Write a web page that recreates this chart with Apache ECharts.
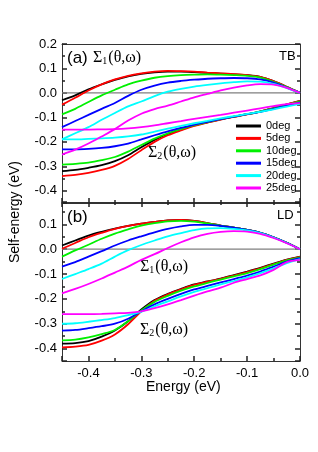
<!DOCTYPE html>
<html>
<head>
<meta charset="utf-8">
<script src="https://cdn.jsdelivr.net/npm/echarts@6/dist/echarts.min.js"></script>
<style>html,body{margin:0;padding:0;background:#fff}#c{width:318px;height:452px}</style>
</head>
<body>
<div id="c"></div>
<script>
// Energy grid (eV)
const energy = [-0.45,-0.425,-0.4,-0.375,-0.35,-0.325,-0.3,-0.275,-0.25,-0.225,-0.2,-0.175,-0.15,-0.125,-0.1,-0.075,-0.05,-0.025,0];
const angles = ['0deg','5deg','10deg','15deg','20deg','25deg'];
const colors = ['#000000','#ff0000','#00f000','#0000ff','#00ffff','#ff00ff'];

// Panel (a) TB : Sigma1 (real part)
const tb_s1_0  = [-0.03,-0.01,0.015,0.035,0.053,0.068,0.078,0.084,0.087,0.087,0.085,0.082,0.079,0.076,0.073,0.066,0.048,0.025,0];
const tb_s1_5  = [-0.048,-0.02,0.01,0.035,0.055,0.07,0.08,0.087,0.09,0.089,0.087,0.083,0.08,0.077,0.073,0.066,0.048,0.025,0];
const tb_s1_10 = [-0.088,-0.065,-0.037,-0.01,0.013,0.035,0.05,0.062,0.069,0.073,0.075,0.076,0.075,0.073,0.07,0.063,0.045,0.024,0];
const tb_s1_15 = [-0.14,-0.115,-0.09,-0.065,-0.041,-0.012,0.013,0.03,0.042,0.049,0.054,0.058,0.06,0.061,0.06,0.055,0.042,0.022,0];
const tb_s1_20 = [-0.19,-0.165,-0.14,-0.11,-0.082,-0.055,-0.035,-0.013,0.005,0.017,0.026,0.033,0.039,0.044,0.047,0.046,0.037,0.02,0];
const tb_s1_25 = [-0.252,-0.232,-0.207,-0.178,-0.148,-0.113,-0.085,-0.066,-0.052,-0.035,-0.018,-0.004,0.01,0.022,0.031,0.036,0.034,0.021,0];
// Panel (a) TB : Sigma2 (imaginary part)
const tb_s2_0  = [-0.32,-0.315,-0.306,-0.295,-0.279,-0.255,-0.222,-0.192,-0.168,-0.15,-0.133,-0.12,-0.108,-0.097,-0.087,-0.075,-0.062,-0.047,-0.033];
const tb_s2_5  = [-0.34,-0.335,-0.327,-0.315,-0.298,-0.27,-0.234,-0.2,-0.173,-0.153,-0.135,-0.121,-0.109,-0.098,-0.088,-0.076,-0.062,-0.047,-0.033];
const tb_s2_10 = [-0.293,-0.29,-0.285,-0.275,-0.262,-0.24,-0.213,-0.187,-0.165,-0.148,-0.132,-0.119,-0.107,-0.097,-0.087,-0.076,-0.063,-0.049,-0.035];
const tb_s2_15 = [-0.231,-0.231,-0.229,-0.225,-0.218,-0.207,-0.19,-0.173,-0.157,-0.143,-0.13,-0.118,-0.107,-0.097,-0.087,-0.077,-0.065,-0.052,-0.039];
const tb_s2_20 = [-0.19,-0.19,-0.188,-0.186,-0.183,-0.178,-0.17,-0.158,-0.146,-0.135,-0.124,-0.114,-0.104,-0.095,-0.086,-0.077,-0.067,-0.056,-0.045];
const tb_s2_25 = [-0.15,-0.15,-0.15,-0.149,-0.148,-0.145,-0.14,-0.133,-0.124,-0.115,-0.106,-0.098,-0.09,-0.081,-0.072,-0.063,-0.054,-0.046,-0.042];

// Panel (b) LD : Sigma1
const ld_s1_0  = [0.015,0.035,0.055,0.07,0.083,0.094,0.103,0.11,0.116,0.118,0.114,0.105,0.095,0.087,0.078,0.066,0.048,0.026,0];
const ld_s1_5  = [0.002,0.025,0.048,0.066,0.082,0.094,0.103,0.11,0.116,0.118,0.114,0.105,0.095,0.087,0.078,0.066,0.048,0.026,0];
const ld_s1_10 = [-0.03,-0.005,0.018,0.042,0.063,0.08,0.095,0.105,0.112,0.114,0.111,0.104,0.095,0.087,0.078,0.066,0.048,0.026,0];
const ld_s1_15 = [-0.07,-0.052,-0.03,-0.008,0.015,0.035,0.052,0.068,0.082,0.092,0.098,0.098,0.094,0.087,0.078,0.066,0.048,0.026,0];
const ld_s1_20 = [-0.12,-0.1,-0.08,-0.058,-0.03,-0.004,0.017,0.035,0.052,0.065,0.077,0.084,0.085,0.082,0.076,0.065,0.047,0.025,0];
const ld_s1_25 = [-0.178,-0.16,-0.14,-0.118,-0.094,-0.07,-0.043,-0.02,0.005,0.028,0.048,0.062,0.07,0.073,0.071,0.062,0.045,0.024,0];
// Panel (b) LD : Sigma2
const ld_s2_0  = [-0.38,-0.378,-0.37,-0.352,-0.327,-0.29,-0.243,-0.205,-0.18,-0.16,-0.142,-0.13,-0.118,-0.104,-0.09,-0.075,-0.058,-0.042,-0.03];
const ld_s2_5  = [-0.395,-0.392,-0.385,-0.368,-0.343,-0.302,-0.25,-0.208,-0.182,-0.162,-0.144,-0.131,-0.119,-0.106,-0.092,-0.077,-0.06,-0.043,-0.031];
const ld_s2_10 = [-0.367,-0.364,-0.355,-0.342,-0.325,-0.29,-0.247,-0.212,-0.188,-0.167,-0.15,-0.136,-0.122,-0.109,-0.096,-0.08,-0.062,-0.045,-0.033];
const ld_s2_15 = [-0.328,-0.325,-0.318,-0.31,-0.3,-0.28,-0.25,-0.222,-0.2,-0.18,-0.162,-0.148,-0.134,-0.12,-0.106,-0.09,-0.07,-0.05,-0.036];
const ld_s2_20 = [-0.3,-0.298,-0.292,-0.285,-0.277,-0.265,-0.252,-0.23,-0.21,-0.19,-0.172,-0.157,-0.142,-0.128,-0.113,-0.096,-0.077,-0.056,-0.04];
const ld_s2_25 = [-0.261,-0.261,-0.261,-0.26,-0.258,-0.256,-0.25,-0.237,-0.222,-0.205,-0.187,-0.17,-0.155,-0.135,-0.12,-0.105,-0.083,-0.052,-0.043];

// Tick labels
const xLabels = [-0.4,-0.3,-0.2,-0.1,0];
const yLabelsA = [-0.4,-0.3,-0.2,-0.1,0,0.1,0.2];
const yLabelsB = [-0.4,-0.3,-0.2,-0.1,0,0.1];

const tbSets = [[tb_s1_0,tb_s1_5,tb_s1_10,tb_s1_15,tb_s1_20,tb_s1_25],[tb_s2_0,tb_s2_5,tb_s2_10,tb_s2_15,tb_s2_20,tb_s2_25]];
const ldSets = [[ld_s1_0,ld_s1_5,ld_s1_10,ld_s1_15,ld_s1_20,ld_s1_25],[ld_s2_0,ld_s2_5,ld_s2_10,ld_s2_15,ld_s2_20,ld_s2_25]];

const AX = '#333333';
const TK = '#222222';
const FONT = 'Liberation Sans';
const SERIF = 'Liberation Serif';
const GW = 238, GH = 159;

function lineOn(show){ return {show:show, onZero:false, lineStyle:{color:AX, width:1}}; }
function ticks(show, len){ return {show:show, inside:false, length:len, lineStyle:{color:TK, width:1.5}}; }
// Tick-only axes are mirrored across the grid with a negative offset so their ticks point inward.
function xAxes(grid, labels) {
  const base = {type:'value', gridIndex:grid, min:-0.45, max:0, splitLine:{show:false}};
  const topTicks = grid === 1;
  return [
    Object.assign({}, base, {position:'bottom', axisLine:lineOn(true), axisTick:ticks(false,0),
      axisLabel:{show:labels, customValues:xLabels, margin:6, color:'#000', fontFamily:FONT, fontSize:13,
        formatter:v=>v.toFixed(1)}}),
    Object.assign({}, base, {position:'top', offset:-GH, splitNumber:5, axisLine:lineOn(false), axisTick:ticks(true,5), axisLabel:{show:false}}),
    Object.assign({}, base, {position:'top', offset:-GH, interval:0.05, axisLine:lineOn(false), axisTick:ticks(true,3), axisLabel:{show:false}}),
    Object.assign({}, base, {position:'bottom', offset:-GH, splitNumber:5, axisLine:lineOn(true), axisTick:ticks(topTicks,5), axisLabel:{show:false}}),
    Object.assign({}, base, {position:'bottom', offset:-GH, interval:0.05, axisLine:lineOn(false), axisTick:ticks(topTicks,3), axisLabel:{show:false}})
  ];
}
function yAxes(grid, max, labelsVals) {
  const base = {type:'value', gridIndex:grid, min:-0.45, max:max, splitLine:{show:false}};
  return [
    Object.assign({}, base, {position:'left', axisLine:lineOn(true), axisTick:ticks(false,0),
      axisLabel:{show:true, customValues:labelsVals, margin:5, color:'#000', fontFamily:FONT, fontSize:13,
        formatter:v=>v.toFixed(1)}}),
    Object.assign({}, base, {position:'right', offset:-GW, splitNumber:6, axisLine:lineOn(false), axisTick:ticks(true,5), axisLabel:{show:false}}),
    Object.assign({}, base, {position:'right', offset:-GW, interval:0.05, axisLine:lineOn(false), axisTick:ticks(true,3), axisLabel:{show:false}}),
    Object.assign({}, base, {position:'left', offset:-GW, splitNumber:6, axisLine:lineOn(true), axisTick:ticks(true,5), axisLabel:{show:false}}),
    Object.assign({}, base, {position:'left', offset:-GW, interval:0.05, axisLine:lineOn(false), axisTick:ticks(true,3), axisLabel:{show:false}})
  ];
}

const series = [];
function addPanel(sets, xi, yi) {
  series.push({type:'line', xAxisIndex:xi, yAxisIndex:yi, data:[[-0.45,0],[0,0]], symbol:'none',
    silent:true, lineStyle:{color:'#7f7f7f', width:1.3}, z:1});
  sets.forEach(set => {
    set.forEach((vals, k) => {
      series.push({name:angles[k], type:'line', xAxisIndex:xi, yAxisIndex:yi, symbol:'none', smooth:0.3,
        data: energy.map((e,i)=>[e, vals[i]]),
        lineStyle:{color:colors[k], width:1.8}, itemStyle:{color:colors[k]}, z:2+k});
    });
  });
}
addPanel(tbSets, 0, 0);
addPanel(ldSets, 5, 5);

const rich = {
  s:{fontFamily:SERIF, fontSize:16, lineHeight:18, fill:'#000', verticalAlign:'bottom'},
  b:{fontFamily:SERIF, fontSize:10, lineHeight:10, fill:'#000', verticalAlign:'bottom', padding:[0,1,0,0]}
};
function label(x, y, txt, size) {
  return {type:'text', left:x, top:y, style:{text:txt, fontFamily:FONT, fontSize:size, fill:'#000'}};
}
function sig(x, y, idx) {
  return {type:'text', left:x, top:y, style:{text:'{s|Σ}{b|' + idx + '}{s|(θ,ω)}', rich:rich, fill:'#000'}};
}

const chart = echarts.init(document.getElementById('c'), null, {renderer:'canvas'});
chart.setOption({
  animation:false,
  grid:[
    {left:62, top:44, width:GW, height:GH},
    {left:62, top:202, width:GW, height:GH}
  ],
  xAxis: xAxes(0,false).concat(xAxes(1,true)),
  yAxis: yAxes(0,0.2,yLabelsA).concat(yAxes(1,0.19,yLabelsB)),
  legend:{
    data:angles, orient:'vertical', left:236, top:120, itemWidth:25, itemHeight:3, itemGap:0.4,
    icon:'rect', textStyle:{fontFamily:FONT, fontSize:11, color:'#000', lineHeight:12}, padding:0, selectedMode:false
  },
  graphic:[
    label(67, 50, '(a)', 17),
    label(67, 209, '(b)', 17),
    label(279, 50, 'TB', 13),
    label(277, 209, 'LD', 13),
    sig(93, 50, 1),
    sig(148, 145, 2),
    sig(140, 259, 1),
    sig(140, 322, 2),
    {type:'text', left:146, top:380, style:{text:'Energy (eV)', fontFamily:FONT, fontSize:14, fill:'#000'}},
    {type:'text', x:8, y:263, rotation:Math.PI/2, style:{text:'Self-energy (eV)', fontFamily:FONT, fontSize:14, fill:'#000'}}
  ],
  series: series
});
</script>
</body>
</html>
